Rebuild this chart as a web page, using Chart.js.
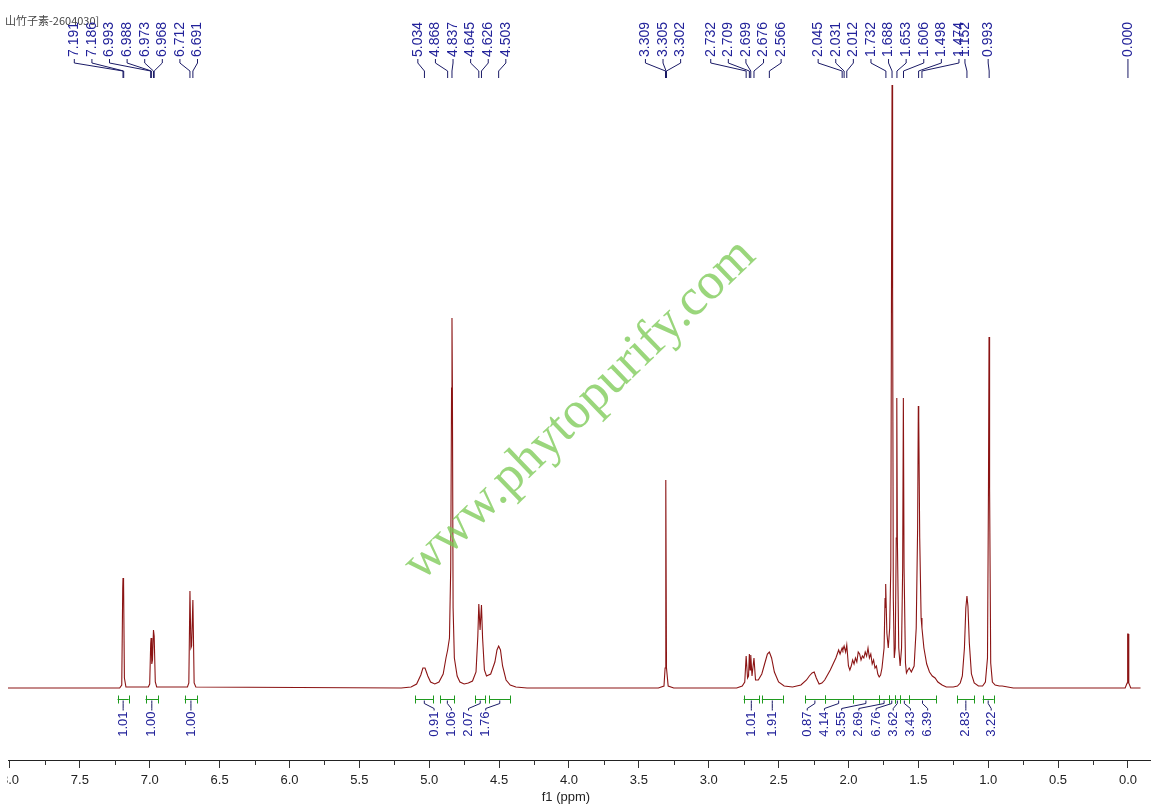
<!DOCTYPE html>
<html>
<head>
<meta charset="utf-8">
<script src="https://cdn.jsdelivr.net/npm/chart.js@4.4.1/dist/chart.umd.min.js"></script>
<style>
  html, body { margin: 0; padding: 0; background: #fff; }
  #wrap { width: 1151px; height: 810px; }
</style>
</head>
<body>
<div id="wrap"><canvas id="nmr" width="1151" height="810"></canvas></div>
<script>
const sampleTitle = '山竹子素-2604030]';
const axisTitle = 'f1 (ppm)';
const watermark = 'www.phytopurify.com';

// spectrum trace: shift (ppm) and height above baseline
const shiftPpm = [
  8.08, 7.215, 7.200, 7.193, 7.191, 7.188, 7.186, 7.181, 7.170,
  7.010, 7.000, 6.993, 6.990, 6.985, 6.980, 6.973, 6.968, 6.960, 6.950,
  6.730, 6.720, 6.712, 6.705, 6.700, 6.691, 6.682, 6.670,
  5.20, 5.13, 5.09, 5.06, 5.045, 5.03, 5.01, 4.99, 4.96, 4.93,
  4.90, 4.88, 4.868, 4.855, 4.846, 4.840, 4.837, 4.834, 4.829, 4.82,
  4.80, 4.78, 4.75, 4.72,
  4.69, 4.665, 4.652, 4.645, 4.636, 4.626, 4.618, 4.605, 4.59, 4.56,
  4.53, 4.515, 4.503, 4.49, 4.475, 4.45, 4.42, 4.38, 4.30,
  3.36, 3.32, 3.312, 3.307, 3.302, 3.29, 3.25,
  2.80, 2.76, 2.742, 2.732, 2.722, 2.715, 2.709, 2.704, 2.699, 2.690,
  2.684, 2.676, 2.665, 2.645, 2.62, 2.60, 2.58, 2.566, 2.55, 2.53,
  2.50, 2.46, 2.40, 2.34,
  2.30, 2.28, 2.26, 2.245, 2.23, 2.21, 2.19, 2.17, 2.15, 2.13,
  2.11, 2.09, 2.07, 2.06, 2.045, 2.04, 2.031, 2.02, 2.012, 2.00,
  1.99, 1.98, 1.97, 1.96, 1.95, 1.94, 1.93, 1.92, 1.91, 1.90,
  1.89, 1.88, 1.87, 1.86, 1.85, 1.84, 1.83, 1.82, 1.81, 1.80,
  1.79, 1.78, 1.77, 1.76,
  1.745, 1.738, 1.735, 1.732, 1.725, 1.715, 1.705, 1.697, 1.692, 1.688,
  1.684, 1.679, 1.672, 1.665, 1.658, 1.654, 1.650, 1.640, 1.630, 1.620,
  1.612, 1.607, 1.602, 1.592, 1.585, 1.575, 1.565, 1.550, 1.530, 1.515,
  1.505, 1.500, 1.497, 1.490, 1.480, 1.474, 1.460, 1.440, 1.420, 1.400,
  1.380, 1.360, 1.330, 1.300, 1.250,
  1.22, 1.20, 1.185, 1.17, 1.16, 1.152, 1.145, 1.135, 1.12, 1.10, 1.07, 1.04,
  1.02, 1.005, 0.998, 0.994, 0.990, 0.982, 0.97, 0.95, 0.92, 0.90, 0.86, 0.82,
  0.02, 0.006, 0.002, -0.002, -0.006, -0.02, -0.09
];
const intensity = [
  0, 0, 3, 100, 110, 106, 105, 10, 1,
  1, 4, 44, 50, 24, 28, 58, 52, 6, 1,
  1, 5, 97, 40, 42, 88, 5, 1,
  0, 1, 4, 13, 20, 20, 12, 6, 4, 6,
  14, 30, 38, 50, 120, 300, 370, 300, 80, 30,
  12, 6, 4, 5,
  7, 16, 52, 84, 58, 83, 50, 18, 12, 14,
  26, 38, 42, 38, 22, 8, 3, 1, 0,
  0, 2, 20, 208, 20, 2, 0,
  0, 2, 6, 32, 10, 12, 34, 18, 33, 12,
  12, 30, 8, 8, 14, 24, 34, 36, 30, 16,
  6, 2, 1, 3,
  8, 12, 15, 16, 10, 4, 5, 8, 13, 18,
  24, 30, 38, 34, 40, 38, 42, 36, 43, 22,
  18, 22, 28, 24, 30, 26, 36, 34, 28, 32,
  30, 36, 32, 40, 30, 34, 24, 28, 20, 22,
  14, 11, 13, 20,
  40, 90, 80, 104, 55, 40, 60, 120, 400, 603,
  400, 90, 30, 40, 150, 290, 150, 40, 22, 40,
  120, 290, 120, 25, 15, 18, 20, 16, 22, 60,
  160, 282, 270, 150, 70, 60, 40, 24, 16, 12,
  10, 6, 3, 1, 1,
  2, 5, 12, 40, 80, 92, 82, 45, 14, 5, 2, 2,
  6, 30, 200, 351, 200, 25, 6, 3, 2, 2, 1, 0,
  0, 5, 54, 54, 5, 0, 0
];

// picked peaks, grouped as in the label fans
const peakGroups = [
  [7.191, 7.186, 6.993, 6.988, 6.973, 6.968, 6.712, 6.691],
  [5.034, 4.868, 4.837, 4.645, 4.626, 4.503],
  [3.309, 3.305, 3.302],
  [2.732, 2.709, 2.699, 2.676, 2.566],
  [2.045, 2.031, 2.012, 1.732, 1.688, 1.653, 1.606, 1.498, 1.474],
  [1.152],
  [0.993],
  [0.000]
];

// integrals
const integralFrom  = [7.23, 7.03, 6.75, 5.10, 4.92, 4.67, 4.57, 2.75, 2.62, 2.31, 2.17, 1.97, 1.78, 1.71, 1.67, 1.63, 1.57, 1.22, 1.04];
const integralTo    = [7.15, 6.94, 6.66, 4.97, 4.82, 4.60, 4.42, 2.64, 2.47, 2.17, 1.97, 1.78, 1.71, 1.67, 1.63, 1.57, 1.37, 1.10, 0.96];
const integralValue = [1.01, 1.00, 1.00, 0.91, 1.06, 2.07, 1.76, 1.01, 1.91, 0.87, 4.14, 3.55, 2.69, 6.76, 3.62, 3.43, 6.39, 2.83, 3.22];

// label fan layout
const peakShift = [-19, -2, -3, -8, 5, -2, -1, 0];
const integralGroups = [[0], [1], [2], [3, 4, 5, 6], [7], [8], [9, 10, 11, 12, 13, 14, 15, 16], [17], [18]];
const integralShift = [0, 0, 0, -3, 0, 0, -10, 0, 3];

const BLUE = '#22229a';
const NAVY = '#1a1a66';
const GREEN = '#1f9a1f';

function isMajor(v) {
  return Math.abs(v * 2 - Math.round(v * 2)) < 1e-6;
}

const overlay = {
  id: 'overlay',
  afterDraw(chart) {
    const ctx = chart.ctx;
    const xs = chart.scales.x;
    const axisY = xs.top;

    ctx.save();
    // the source image is cropped just left of the axis start
    ctx.fillStyle = '#fff';
    ctx.fillRect(0, axisY - 2, xs.left - 1, 40);

    // minor ticks
    ctx.strokeStyle = '#333';
    ctx.lineWidth = 1;
    xs.ticks.forEach(t => {
      if (isMajor(t.value)) return;
      const px = Math.round(xs.getPixelForValue(t.value)) + 0.5;
      ctx.beginPath();
      ctx.moveTo(px, axisY);
      ctx.lineTo(px, axisY + 5);
      ctx.stroke();
    });

    // axis title
    ctx.fillStyle = '#222';
    ctx.font = '13px "Liberation Sans", Arial, sans-serif';
    ctx.textAlign = 'center';
    ctx.textBaseline = 'middle';
    ctx.fillText(axisTitle, xs.getPixelForValue(4.0) - 3, 797);

    // sample title
    ctx.fillStyle = '#444';
    ctx.font = '11px "Noto Sans CJK SC", sans-serif';
    ctx.textAlign = 'left';
    ctx.fillText(sampleTitle, 5, 21);

    // peak labels with connectors
    ctx.font = '14px "Liberation Sans", Arial, sans-serif';
    peakGroups.forEach((g, gi) => {
      const px = g.map(v => xs.getPixelForValue(v));
      const mid = px.reduce((a, b) => a + b, 0) / px.length + peakShift[gi];
      g.forEach((v, i) => {
        const lx = mid + (i - (g.length - 1) / 2) * 17.6;
        ctx.save();
        ctx.translate(lx, 57);
        ctx.rotate(-Math.PI / 2);
        ctx.fillStyle = BLUE;
        ctx.textAlign = 'left';
        ctx.textBaseline = 'middle';
        ctx.fillText(v.toFixed(3), 0, 0);
        ctx.restore();
        ctx.strokeStyle = NAVY;
        ctx.beginPath();
        ctx.moveTo(lx, 59);
        ctx.lineTo(lx, 63);
        ctx.lineTo(px[i], 71);
        ctx.lineTo(px[i], 78);
        ctx.stroke();
      });
    });

    // integral bars
    const barY = 699.5;
    ctx.strokeStyle = GREEN;
    integralFrom.forEach((f, i) => {
      const x1 = xs.getPixelForValue(f), x2 = xs.getPixelForValue(integralTo[i]);
      ctx.beginPath();
      ctx.moveTo(x1, barY); ctx.lineTo(x2, barY);
      ctx.moveTo(Math.round(x1) + 0.5, barY - 4); ctx.lineTo(Math.round(x1) + 0.5, barY + 4);
      ctx.moveTo(Math.round(x2) + 0.5, barY - 4); ctx.lineTo(Math.round(x2) + 0.5, barY + 4);
      ctx.stroke();
    });

    // integral values
    ctx.font = '13px "Liberation Sans", Arial, sans-serif';
    integralGroups.forEach((g, gi) => {
      const cx = g.map(k => (xs.getPixelForValue(integralFrom[k]) + xs.getPixelForValue(integralTo[k])) / 2);
      const mid = cx.reduce((a, b) => a + b, 0) / cx.length + integralShift[gi];
      g.forEach((k, i) => {
        const lx = mid + (i - (g.length - 1) / 2) * 17.2;
        ctx.strokeStyle = NAVY;
        ctx.beginPath();
        ctx.moveTo(cx[i], barY + 1);
        ctx.lineTo(cx[i], barY + 4);
        ctx.lineTo(lx, barY + 9);
        ctx.lineTo(lx, barY + 11);
        ctx.stroke();
        ctx.save();
        ctx.translate(lx, barY + 12);
        ctx.rotate(-Math.PI / 2);
        ctx.fillStyle = BLUE;
        ctx.textAlign = 'right';
        ctx.textBaseline = 'middle';
        ctx.fillText(integralValue[k].toFixed(2), 0, 0);
        ctx.restore();
      });
    });

    // watermark
    ctx.translate(580, 410);
    ctx.rotate(-44 * Math.PI / 180);
    ctx.fillStyle = 'rgba(120, 200, 80, 0.75)';
    ctx.font = '52px "Liberation Serif", "DejaVu Serif", serif';
    ctx.textAlign = 'center';
    ctx.textBaseline = 'middle';
    ctx.fillText(watermark, 0, 0);
    ctx.restore();
  }
};

const chart = new Chart(document.getElementById('nmr'), {
  type: 'line',
  data: {
    datasets: [{
      data: shiftPpm.map((x, i) => ({ x: x, y: intensity[i] })),
      borderColor: '#8b1414',
      borderWidth: 1.1,
      pointRadius: 0,
      tension: 0,
      fill: false
    }]
  },
  options: {
    responsive: false,
    animation: false,
    devicePixelRatio: 1,
    layout: { padding: { left: 8, right: 0, top: 0, bottom: 0 } },
    plugins: { legend: { display: false }, tooltip: { enabled: false } },
    scales: {
      x: {
        type: 'linear',
        reverse: true,
        min: -0.165,
        max: 8.014,
        border: { display: true, color: '#222', width: 1 },
        grid: {
          display: true,
          drawOnChartArea: false,
          drawTicks: true,
          tickLength: 8,
          tickColor: c => (c.tick && isMajor(c.tick.value)) ? '#333' : 'rgba(0,0,0,0)'
        },
        ticks: {
          stepSize: 0.25,
          includeBounds: false,
          autoSkip: false,
          maxRotation: 0,
          padding: 5,
          color: '#222',
          font: { family: '"Liberation Sans", Arial, sans-serif', size: 13 },
          callback: v => isMajor(v) ? v.toFixed(1) : ''
        },
        afterBuildTicks: s => {
          s.ticks = s.ticks.filter(t => Math.abs(t.value * 4 - Math.round(t.value * 4)) < 1e-6);
        },
        afterFit: s => {
          s.height = 50;
          s.paddingLeft = 0;
          s.paddingRight = 0;
        }
      },
      y: {
        display: false,
        min: -72,
        max: 688
      }
    }
  },
  plugins: [overlay]
});
</script>
</body>
</html>
